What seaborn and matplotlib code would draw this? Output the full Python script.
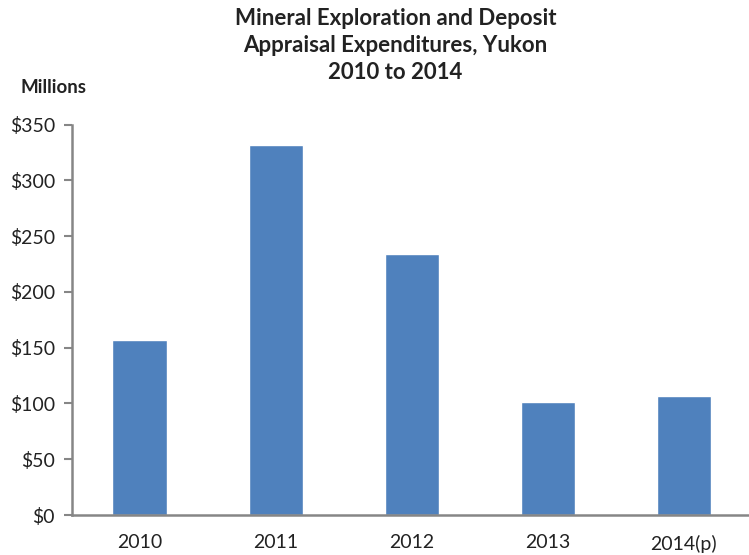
import matplotlib
matplotlib.use("Agg")
import matplotlib.pyplot as plt
import pandas as pd
import seaborn as sns

# Data
years = ['2010', '2011', '2012', '2013', '2014(p)']
spend = [157, 332, 234, 101, 107]   # millions of dollars
y_ticks = [0, 50, 100, 150, 200, 250, 300, 350]

df = pd.DataFrame({'year': years, 'spend': spend})

sns.set_style('white')
plt.rcParams['font.family'] = ['Lato', 'DejaVu Sans']

fig = plt.figure(figsize=(7.49, 5.55), dpi=100)
ax = fig.add_axes([0.0957, 0.072, 0.908, 0.7035])

sns.barplot(data=df, x='year', y='spend', color='#4F81BD', width=0.4,
            saturation=1, ax=ax)

ax.set_xlim(-0.5, 4.5)
ax.set_ylim(0, 350)
ax.set_yticks(y_ticks)
ax.set_yticklabels(['$' + str(v) for v in y_ticks], fontsize=14, color='#222222')
ax.set_xticklabels(years, fontsize=14, color='#222222')
ax.set_xlabel('')
ax.set_ylabel('')

# category boundary ticks like the original
ax.set_xticks([i - 0.5 for i in range(len(years) + 1)], minor=True)
ax.tick_params(axis='x', which='major', length=0, pad=14)
ax.tick_params(axis='x', which='minor', length=6, width=1.5, color='#868686', direction='out')
ax.tick_params(axis='y', length=6, width=1.5, color='#868686', direction='out', pad=6, left=True)

for s in ['top', 'right']:
    ax.spines[s].set_visible(False)
for s in ['left', 'bottom']:
    ax.spines[s].set_color('#868686')
    ax.spines[s].set_linewidth(1.8)

fig.text(0.528, 0.985, 'Mineral Exploration and Deposit\nAppraisal Expenditures, Yukon\n2010 to 2014',
         ha='center', va='top', fontsize=16, fontweight='bold', color='#222222',
         linespacing=1.35)
fig.text(0.027, 0.843, 'Millions', ha='left', va='center', fontsize=13.5,
         fontweight='bold', color='#222222')

fig.savefig('out.png', dpi=100)
